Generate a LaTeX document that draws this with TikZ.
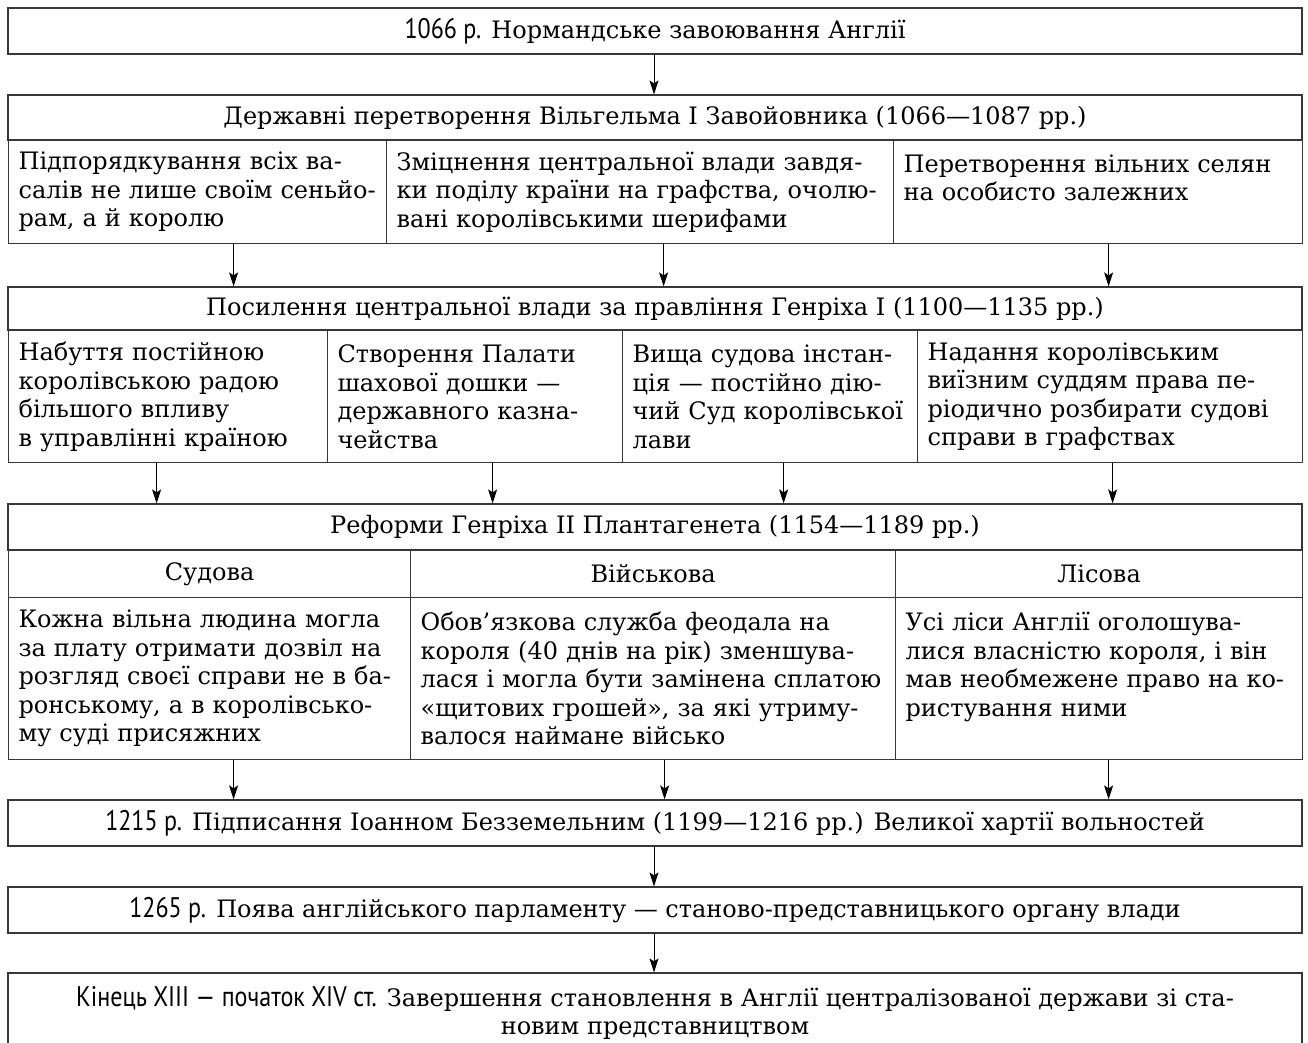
\documentclass[tikz,border=0pt]{standalone}
\usepackage{fontspec}
\usepackage{tikz}
\usetikzlibrary{arrows.meta}
\setmainfont{DejaVu Serif}
\newfontfamily\yearfont[FakeStretch=0.85,Scale=1.18]{PT Sans}
\definecolor{framegray}{RGB}{55,55,55}

\begin{document}
\begin{tikzpicture}[x=1pt, y=-1pt,
    font=\fontsize{24}{28.5}\selectfont,
    bar/.style={draw=framegray, line width=1.2pt, minimum width=1294pt, inner sep=0pt, align=center},
    cell/.style={draw=framegray, line width=1.2pt, anchor=north west, inner xsep=10pt, inner ysep=0pt, align=left},
    head/.style={draw=framegray, line width=1.2pt, anchor=north west, inner sep=0pt, minimum height=47pt, align=center},
    arr/.style={-{Stealth[length=14pt,width=9pt,inset=3pt]}, line width=1pt}]
  \clip (0,0) rectangle (1308,1042);

  % 1066
  \node[bar, minimum height=46pt] (start) at (655,31) {{\yearfont 1066 р.} Нормандське завоювання Англії};

  % Вільгельм I
  \node[bar, minimum height=45pt] (t2) at (655,117.5) {Державні перетворення Вільгельма I Завойовника (1066—1087 рр.)};
  \node[cell, text width=358pt, minimum height=103pt] (w1) at (8,140) {Підпорядкування всіх ва-\\салів не лише своїм сеньйо-\\рам, а й королю};
  \node[cell, text width=487pt, minimum height=103pt] (w2) at (386,140) {Зміцнення центральної влади завдя-\\ки поділу країни на графства, очолю-\\вані королівськими шерифами};
  \node[cell, text width=389pt, minimum height=103pt] (w3) at (893,140) {Перетворення вільних селян\\на особисто залежних\\~};

  % Генріх I
  \node[bar, minimum height=43pt] (t3) at (655,308.5) {Посилення центральної влади за правління Генріха I (1100—1135 рр.)};
  \node[cell, text width=299pt, minimum height=132pt] (h1) at (8,330) {Набуття постійною\\королівською радою\\більшого впливу\\в управлінні країною};
  \node[cell, text width=275pt, minimum height=132pt] (h2) at (327,330) {Створення Палати\\шахової дошки —\\державного казна-\\чейства};
  \node[cell, text width=275pt, minimum height=132pt] (h3) at (622,330) {Вища судова інстан-\\ція — постійно дію-\\чий Суд королівської\\лави};
  \node[cell, text width=365pt, minimum height=132pt] (h4) at (917,330) {Надання королівським\\виїзним суддям права пе-\\ріодично розбирати судові\\справи в графствах};

  % Генріх II
  \node[bar, minimum height=46pt] (t4) at (655,527) {Реформи Генріха II Плантагенета (1154—1189 рр.)};
  \node[head, minimum width=402pt] (k1) at (8,550) {Судова};
  \node[head, minimum width=485pt] (k2) at (410,550) {Військова};
  \node[head, minimum width=407pt] (k3) at (895,550) {Лісова};
  \node[cell, text width=382pt, minimum height=162pt] (r1) at (8,597) {Кожна вільна людина могла\\за плату отримати дозвіл на\\розгляд своєї справи не в ба-\\ронському, а в королівсько-\\му суді присяжних};
  \node[cell, text width=465pt, minimum height=162pt] (r2) at (410,597) {Обов’язкова служба феодала на\\короля (40 днів на рік) зменшува-\\лася і могла бути замінена сплатою\\«щитових грошей», за які утриму-\\валося наймане військо};
  \node[cell, text width=387pt, minimum height=162pt] (r3) at (895,597) {Усі ліси Англії оголошува-\\лися власністю короля, і він\\мав необмежене право на ко-\\ристування ними\\~};

  % 1215, 1265, кінець XIII
  \node[bar, minimum height=46pt] (magna) at (655,823) {{\yearfont 1215 р.} Підписання Іоанном Безземельним (1199—1216 рр.) Великої хартії вольностей};
  \node[bar, minimum height=46pt] (parl) at (655,910) {{\yearfont 1265 р.} Поява англійського парламенту — станово-представницького органу влади};
  \node[bar, minimum height=80pt] (finish) at (655,1013) {{\yearfont Кінець XIII — початок XIV ст.} Завершення становлення в Англії централізованої держави зі ста-\\новим представництвом};

  % стрілки
  \foreach \src/\dx/\dst in {start/-1/t2, w1/36/t3, w2/23.5/t3, w3/10.5/t3,
      h1/-11.5/t4, h2/17.5/t4, h3/13.5/t4, h4/2.5/t4,
      r1/24/magna, r2/11.5/magna, r3/9.5/magna, magna/-1/parl, parl/-1/finish}
  {
    \path ([xshift=\dx pt]\src.south) coordinate (p);
    \draw[arr] (p) -- (p |- \dst.north);
  }
\end{tikzpicture}
\end{document}
